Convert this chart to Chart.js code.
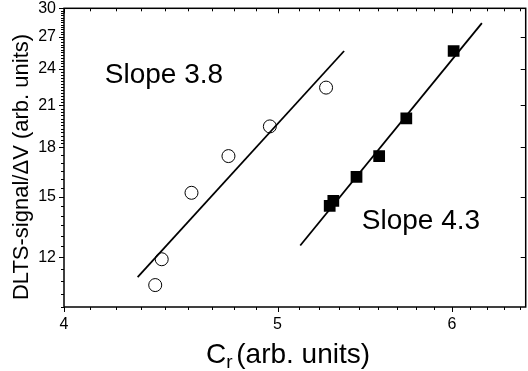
<!DOCTYPE html>
<html>
<head>
<meta charset="utf-8">
<script src="https://cdn.jsdelivr.net/npm/chart.js@4.4.1/dist/chart.umd.min.js"></script>
<style>
  html, body { margin: 0; padding: 0; background: #fff; overflow: hidden; }
  #wrap { width: 528px; height: 371px; overflow: hidden; }
</style>
</head>
<body>
<div id="wrap"><canvas id="dlts" width="534" height="371"></canvas></div>
<script>
// Open circles (slope 3.8 set)
const circleX = [4.40, 4.43, 4.57, 4.75, 4.96, 5.26];
const circleY = [10.84, 11.92, 15.22, 17.42, 19.43, 22.41];
// Filled squares (slope 4.3 set)
const squareX = [5.28, 5.30, 5.43, 5.56, 5.72, 6.01];
const squareY = [14.51, 14.78, 16.14, 17.42, 20.01, 25.64];
// Fitted lines, end points
const fit1X = [4.32, 5.36];
const fit1Y = [11.16, 25.64];
const fit2X = [5.12, 6.19];
const fit2Y = [12.54, 28.41];

// Axis ticks
const xMajor = [4, 5, 6];
const yMajor = [12, 15, 18, 21, 24, 27, 30];
const xRange = [4, 6.48];
const yRange = [10, 30];

// Slope labels: [x, y, text]
const slopeLabels = [
    [4.174, 22.8, 'Slope 3.8'],
    [5.46, 13.34, 'Slope 4.3']
];

const FONT = 'Arial, "Liberation Sans", sans-serif';

function pts(xs, ys) {
    return xs.map((x, i) => ({ x: x, y: ys[i] }));
}

// minor ticks: 8 evenly spaced values between majors on x
function xMinor() {
    const out = [];
    for (let m = 4; m < 7; m++) {
        for (let i = 1; i < 9; i++) {
            const v = m + i / 9;
            if (v < xRange[1]) out.push(v);
        }
    }
    return out;
}

function yMinor() {
    const out = [];
    for (let v = 10; v < 30; v += (v < 18 ? 0.5 : 0.25)) {
        if (!yMajor.includes(v)) out.push(v);
    }
    return out;
}

// frame, ticks, titles and text labels
const decorPlugin = {
    id: 'decor',
    afterDraw(chart) {
        const ctx = chart.ctx;
        const a = chart.chartArea;
        const xs = chart.scales.x, ys = chart.scales.y;
        ctx.save();
        ctx.strokeStyle = '#000';
        ctx.lineWidth = 1.5;
        ctx.strokeRect(a.left, a.top, a.right - a.left, a.bottom - a.top);

        ctx.lineWidth = 1;
        ctx.beginPath();
        xMajor.forEach(v => {
            const px = Math.round(xs.getPixelForValue(v)) + 0.5;
            ctx.moveTo(px, a.bottom); ctx.lineTo(px, a.bottom + 5);
            ctx.moveTo(px, a.top); ctx.lineTo(px, a.top + 5);
        });
        xMinor().forEach(v => {
            const px = Math.round(xs.getPixelForValue(v)) + 0.5;
            ctx.moveTo(px, a.bottom); ctx.lineTo(px, a.bottom + 3);
            ctx.moveTo(px, a.top); ctx.lineTo(px, a.top + 3);
        });
        yMajor.forEach(v => {
            const py = Math.round(ys.getPixelForValue(v)) + 0.5;
            ctx.moveTo(a.left, py); ctx.lineTo(a.left - 5, py);
            ctx.moveTo(a.right, py); ctx.lineTo(a.right - 5, py);
        });
        yMinor().forEach(v => {
            const py = Math.round(ys.getPixelForValue(v)) + 0.5;
            ctx.moveTo(a.left, py); ctx.lineTo(a.left - 3, py);
        });
        ctx.stroke();

        ctx.fillStyle = '#000';
        // slope labels
        ctx.font = '28px ' + FONT;
        ctx.textAlign = 'left';
        ctx.textBaseline = 'alphabetic';
        slopeLabels.forEach(l => {
            ctx.fillText(l[2], xs.getPixelForValue(l[0]), ys.getPixelForValue(l[1]));
        });

        // y title
        ctx.save();
        ctx.translate(22, 167);
        ctx.rotate(-Math.PI / 2);
        ctx.font = '22px ' + FONT;
        ctx.textAlign = 'center';
        ctx.textBaseline = 'middle';
        ctx.fillText('DLTS-signal/\u0394V (arb. units)', 0, 0);
        ctx.restore();

        // x title with subscript
        const big = '28px ' + FONT, small = '19px ' + FONT;
        ctx.font = big;
        const wC = ctx.measureText('C').width;
        const wRest = ctx.measureText(' (arb. units)').width;
        ctx.font = small;
        const wr = ctx.measureText('r').width;
        const total = wC + wr + wRest;
        let x0 = 290 - total / 2;
        const base = 363;
        ctx.textAlign = 'left';
        ctx.font = big;
        ctx.fillText('C', x0, base);
        ctx.font = small;
        ctx.fillText('r', x0 + wC, base + 5);
        ctx.font = big;
        ctx.fillText(' (arb. units)', x0 + wC + wr - 4, base);
        ctx.restore();
    }
};

new Chart(document.getElementById('dlts'), {
    type: 'scatter',
    data: {
        datasets: [
            {
                label: 'fit 3.8',
                data: pts(fit1X, fit1Y),
                showLine: true,
                borderColor: '#000',
                borderWidth: 1.8,
                pointRadius: 0
            },
            {
                label: 'fit 4.3',
                data: pts(fit2X, fit2Y),
                showLine: true,
                borderColor: '#000',
                borderWidth: 1.8,
                pointRadius: 0
            },
            {
                label: 'circles',
                data: pts(circleX, circleY),
                pointStyle: 'circle',
                pointRadius: 6.5,
                borderColor: '#000',
                borderWidth: 1,
                backgroundColor: 'rgba(255,255,255,0)'
            },
            {
                label: 'squares',
                data: pts(squareX, squareY),
                pointStyle: 'rect',
                pointRadius: 8.3,
                borderColor: '#000',
                borderWidth: 0,
                backgroundColor: '#000'
            }
        ]
    },
    options: {
        responsive: false,
        animation: false,
        layout: { padding: { top: 8, right: 1, left: 0, bottom: 0 } },
        plugins: {
            legend: { display: false },
            tooltip: { enabled: false }
        },
        scales: {
            x: {
                type: 'logarithmic',
                min: xRange[0],
                max: xRange[1],
                afterBuildTicks: s => { s.ticks = xMajor.map(v => ({ value: v })); },
                afterFit: s => { s.height = 64; s.paddingLeft = 0; s.paddingRight = 0; },
                grid: { display: false, drawTicks: false },
                border: { display: false },
                ticks: {
                    padding: 8,
                    color: '#000',
                    font: { family: FONT, size: 16 },
                    maxRotation: 0,
                    autoSkip: false,
                    callback: v => String(v)
                }
            },
            y: {
                type: 'logarithmic',
                min: yRange[0],
                max: yRange[1],
                afterBuildTicks: s => { s.ticks = yMajor.map(v => ({ value: v })); },
                afterFit: s => { s.width = 64; s.paddingTop = 0; s.paddingBottom = 0; },
                grid: { display: false, drawTicks: false },
                border: { display: false },
                ticks: {
                    padding: 8,
                    color: '#000',
                    font: { family: FONT, size: 16 },
                    autoSkip: false,
                    callback: v => String(v)
                }
            }
        }
    },
    plugins: [decorPlugin]
});
</script>
</body>
</html>
